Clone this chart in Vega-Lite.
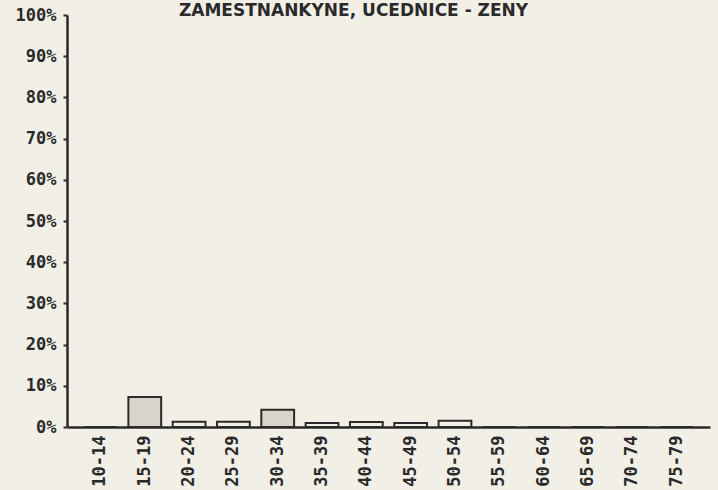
{
  "$schema": "https://vega.github.io/schema/vega-lite/v6.json",
  "width": 643,
  "height": 412,
  "autosize": {"type": "none"},
  "padding": {"left": 67, "top": 15, "right": 8, "bottom": 63},
  "background": "#f2efe7",
  "title": {
    "text": "ZAMESTNANKYNE, UCEDNICE - ZENY",
    "font": "DejaVu Sans",
    "fontSize": 17,
    "fontWeight": "bold",
    "color": "#2a2a2a",
    "anchor": "middle",
    "baseline": "alphabetic",
    "dx": -35,
    "offset": -27
  },
  "data": {
    "values": [
      {"age": "10-14", "value": 0},
      {"age": "15-19", "value": 7.3},
      {"age": "20-24", "value": 1.3},
      {"age": "25-29", "value": 1.3},
      {"age": "30-34", "value": 4.2},
      {"age": "35-39", "value": 1.0},
      {"age": "40-44", "value": 1.2},
      {"age": "45-49", "value": 1.0},
      {"age": "50-54", "value": 1.5},
      {"age": "55-59", "value": 0},
      {"age": "60-64", "value": 0},
      {"age": "65-69", "value": 0},
      {"age": "70-74", "value": 0},
      {"age": "75-79", "value": 0}
    ]
  },
  "mark": {"type": "bar", "stroke": "#2a2a2a", "strokeWidth": 2},
  "encoding": {
    "x": {
      "field": "age",
      "type": "ordinal",
      "sort": null,
      "scale": {"paddingInner": 0.26, "paddingOuter": 0.385},
      "axis": {
        "title": null,
        "labelAngle": -90,
        "labelAlign": "right",
        "labelBaseline": "middle",
        "labelPadding": 8,
        "ticks": false,
        "domainColor": "#2a2a2a",
        "domainWidth": 2.5,
        "labelFont": "DejaVu Sans Mono",
        "labelFontSize": 17,
        "labelFontWeight": "bold",
        "labelColor": "#2a2a2a"
      }
    },
    "y": {
      "field": "value",
      "type": "quantitative",
      "scale": {"domain": [0, 100], "nice": false},
      "axis": {
        "title": null,
        "values": [0, 10, 20, 30, 40, 50, 60, 70, 80, 90, 100],
        "labelExpr": "datum.value + '%'",
        "grid": false,
        "tickSize": 4,
        "tickWidth": 2,
        "tickColor": "#2a2a2a",
        "domainColor": "#2a2a2a",
        "domainWidth": 2.5,
        "labelPadding": 7,
        "labelFont": "DejaVu Sans Mono",
        "labelFontSize": 17,
        "labelFontWeight": "bold",
        "labelColor": "#2a2a2a"
      }
    },
    "fill": {
      "condition": {"test": "datum.value > 3", "value": "#d8d4cb"},
      "value": "#f2efe7"
    }
  },
  "config": {"view": {"stroke": null}}
}
